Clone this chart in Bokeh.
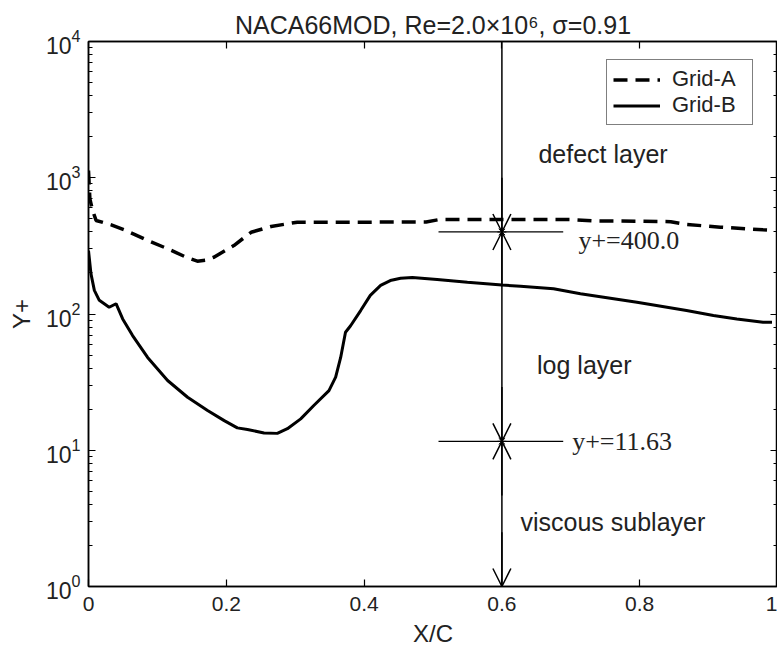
from bokeh.plotting import figure
from bokeh.models import (LogAxis, LinearAxis, Arrow, OpenHead, Label, Legend,
                          LegendItem, FixedTicker, LogTicker)
from bokeh.embed import file_html
from bokeh.resources import INLINE

# ---------------- data ----------------
xa = [0.0, 0.002, 0.006, 0.011, 0.033, 0.052, 0.086, 0.115, 0.144, 0.158, 0.170,
      0.182, 0.211, 0.236, 0.265, 0.303, 0.40, 0.49, 0.51, 0.60, 0.70, 0.735,
      0.80, 0.845, 0.868, 0.917, 0.979, 0.99]
ya = [1130, 700, 575, 486, 451, 415, 346, 301, 258, 244, 248,
      261, 318, 398, 439, 472, 472, 474, 494, 494, 493, 482,
      480, 476, 454, 434, 415, 412]

xb = [0.0, 0.0036, 0.0085, 0.0157, 0.030, 0.040, 0.0496, 0.064, 0.0858, 0.1148,
      0.1438, 0.1728, 0.197, 0.216, 0.2307, 0.2548, 0.274, 0.2887, 0.308, 0.327,
      0.349, 0.3587, 0.366, 0.373, 0.3804, 0.395, 0.409, 0.424, 0.438, 0.453,
      0.47, 0.506, 0.55, 0.60, 0.627, 0.675, 0.714, 0.796, 0.868, 0.907,
      0.941, 0.979, 0.992]
yb = [292, 197, 149, 126, 112, 119, 92, 69.5, 48, 32.5,
      24.5, 19.6, 16.5, 14.6, 14.2, 13.4, 13.3, 14.4, 17, 21.3,
      27.4, 34.4, 48, 73.5, 82, 106, 137, 162, 176, 183,
      185, 179, 171, 163, 160, 153, 141, 122, 106, 97.5,
      92, 87, 87]

series_names = ["Grid-A", "Grid-B"]
x_ticks = [0, 0.2, 0.4, 0.6, 0.8, 1.0]
x_tick_labels = ["0", "0.2", "0.4", "0.6", "0.8", "1"]
x_lo, x_hi = 0.0, 1.0
y_lo, y_hi = 1.0, 1.0e4

station_x = 0.6
yplus_levels = [400.0, 11.63]
level_labels = ["y+=400.0", "y+=11.63"]
layer_names = ["defect layer", "log layer", "viscous sublayer"]

title_text = "NACA66MOD, Re=2.0\u00d710\u2076, \u03c3=0.91"

# ---------------- layout / style constants ----------------
SANS = "Liberation Sans"
SERIF = "Liberation Serif"
level_line_x = (0.508, 0.689)
level_label_pos = [(0.711, 346.0), (0.702, 11.63)]
layer_label_pos = [(0.653, 1500.0), (0.651, 41.9), (0.627, 2.96)]

p = figure(width=777, height=656, x_range=(x_lo, x_hi), y_range=(y_lo, y_hi),
           y_axis_type="log", output_backend="svg", toolbar_location=None,
           min_border_left=88, min_border_right=0, min_border_top=41,
           min_border_bottom=70)
p.background_fill_color = "white"
p.border_fill_color = "white"
p.outline_line_color = "black"
p.outline_line_width = 1.5
p.grid.visible = False

p.title.text = title_text
p.title.text_font = SANS
p.title.text_font_size = "25px"
p.title.text_font_style = "normal"
p.title.text_color = "#222222"
p.title.align = "center"
p.title.standoff = 6

def style_axis(ax, labels=True):
    ax.axis_line_color = "black"
    ax.axis_line_width = 1.5
    ax.major_tick_line_color = "black"
    ax.major_tick_line_width = 1.2
    ax.minor_tick_line_color = "black"
    ax.minor_tick_line_width = 1.0
    ax.major_tick_in = 7
    ax.major_tick_out = 0
    ax.minor_tick_in = 4
    ax.minor_tick_out = 0
    if labels:
        ax.major_label_text_font = SANS
        ax.major_label_text_font_size = "21px"
        ax.major_label_text_color = "#222222"
        ax.axis_label_text_font = SANS
        ax.axis_label_text_font_size = "24px"
        ax.axis_label_text_font_style = "normal"
        ax.axis_label_text_color = "#222222"
    else:
        ax.major_label_text_font_size = "1px"
        ax.major_label_text_alpha = 0.0
        ax.major_label_standoff = 0

p.xaxis.ticker = FixedTicker(ticks=x_ticks)
p.xaxis.major_label_overrides = {t: s for t, s in zip(x_ticks, x_tick_labels)}
p.xaxis.axis_label = "X/C"
p.xaxis.major_label_standoff = 10
p.xaxis.axis_label_standoff = 6
p.yaxis.axis_label = "Y+"
p.yaxis.major_label_standoff = 8
p.yaxis.axis_label_standoff = 8
style_axis(p.xaxis[0])
style_axis(p.yaxis[0])
p.yaxis.major_label_text_font_size = "23px"
p.xaxis.minor_tick_line_color = None

top_ax = LinearAxis(ticker=FixedTicker(ticks=x_ticks))
style_axis(top_ax, labels=False)
top_ax.minor_tick_line_color = None
p.add_layout(top_ax, "above")

right_ax = LogAxis(ticker=LogTicker())
style_axis(right_ax, labels=False)
p.add_layout(right_ax, "right")

# ---------------- curves ----------------
ra = p.line(xa, ya, line_color="black", line_width=3.5, line_dash="14 8")
rb = p.line(xb, yb, line_color="black", line_width=3)

legend = Legend(items=[LegendItem(label=series_names[0], renderers=[ra]),
                       LegendItem(label=series_names[1], renderers=[rb])],
                location=(518, 461), orientation="vertical")
legend.border_line_color = "black"
legend.border_line_width = 1.2
legend.background_fill_color = "white"
legend.background_fill_alpha = 1.0
legend.label_text_font = SANS
legend.label_text_font_size = "22px"
legend.label_text_color = "#222222"
legend.glyph_width = 47
legend.glyph_height = 25
legend.label_height = 25
legend.label_width = 74
legend.label_standoff = 12
legend.padding = 6
legend.spacing = 0
legend.margin = 0
p.add_layout(legend)

# ---------------- station annotation ----------------
p.line([station_x, station_x], [y_lo, y_hi], line_color="black", line_width=1.5)
for lvl in yplus_levels:
    p.segment(x0=[level_line_x[0]], x1=[level_line_x[1]], y0=[lvl], y1=[lvl],
              line_color="black", line_width=1.2)
    for ys in (lvl * 2.5, lvl / 2.5):
        p.add_layout(Arrow(end=OpenHead(size=18, line_color="black", line_width=1.5),
                           x_start=station_x, y_start=ys, x_end=station_x, y_end=lvl,
                           line_color="black", line_width=1.5))
p.add_layout(Arrow(end=OpenHead(size=18, line_color="black", line_width=1.5),
                   x_start=station_x, y_start=y_lo * 2.5, x_end=station_x, y_end=y_lo,
                   line_color="black", line_width=1.5))
p.scatter(x=[station_x] * len(yplus_levels), y=yplus_levels, marker="asterisk",
          size=9, line_color="black", line_width=1)

for (lx, ly), txt in zip(level_label_pos, level_labels):
    p.add_layout(Label(x=lx, y=ly, text=txt, text_font=SERIF, text_font_size="26px",
                       text_baseline="middle", text_align="left", text_color="#222222"))
for (lx, ly), txt in zip(layer_label_pos, layer_names):
    p.add_layout(Label(x=lx, y=ly, text=txt, text_font=SANS, text_font_size="25px",
                       text_baseline="middle", text_align="left", text_color="#222222"))

open("out.html", "w").write(file_html(p, INLINE))
